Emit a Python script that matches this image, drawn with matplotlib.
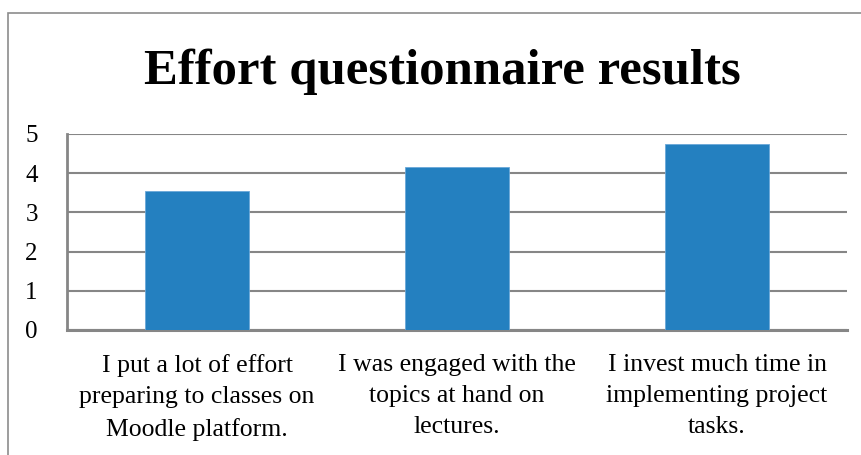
import matplotlib
matplotlib.use("Agg")
import matplotlib.pyplot as plt
from matplotlib.patches import Rectangle

categories = [
    "I put a lot of effort\npreparing to classes on\nMoodle platform.",
    "I was engaged with the\ntopics at hand on\nlectures.",
    "I invest much time in\nimplementing project\ntasks.",
]
values = [3.55, 4.16, 4.74]
yticks = [0, 1, 2, 3, 4, 5]
title = "Effort questionnaire results"

W, H = 861, 455
fig = plt.figure(figsize=(W / 100, H / 100), dpi=100)
serif = ["Liberation Serif", "DejaVu Serif"]

# outer frame of the chart
fig.patches.append(Rectangle((8 / W, -0.1), 1.2, 1 - 13 / H + 0.1, transform=fig.transFigure,
                             fill=False, edgecolor="#8c8c8c", linewidth=1.2))

ax = fig.add_axes([67 / W, 1 - 330 / H, (847 - 67) / W, (330 - 134) / H])
x = range(len(categories))
ax.bar(x, values, width=0.4, color="#2480c0", edgecolor="#6aa8d8", linewidth=0.6, zorder=3)
ax.set_xlim(-0.5, len(categories) - 0.5)
ax.set_ylim(0, 5)
ax.set_yticks(yticks)
ax.set_yticklabels([str(t) for t in yticks], fontsize=18, family=serif)
ax.set_xticks(list(x))
ax.set_xticklabels(categories, fontsize=18.5, family=serif, linespacing=1.55)
ax.tick_params(axis="y", length=0, pad=21)
ax.tick_params(axis="x", length=0, pad=17)
ax.yaxis.grid(True, color="#868686", linewidth=1.5, zorder=0)
ax.set_axisbelow(True)
for s in ["top", "right"]:
    ax.spines[s].set_visible(False)
ax.spines["left"].set_color("#868686")
ax.spines["left"].set_linewidth(2)
ax.spines["bottom"].set_color("#868686")
ax.spines["bottom"].set_linewidth(2.2)

fig.text((142 + 742) / 2 / W, 1 - 84 / H, title, fontsize=36.5, fontweight="bold",
         family=serif, ha="center", va="baseline")

fig.savefig("out.png", dpi=100)
